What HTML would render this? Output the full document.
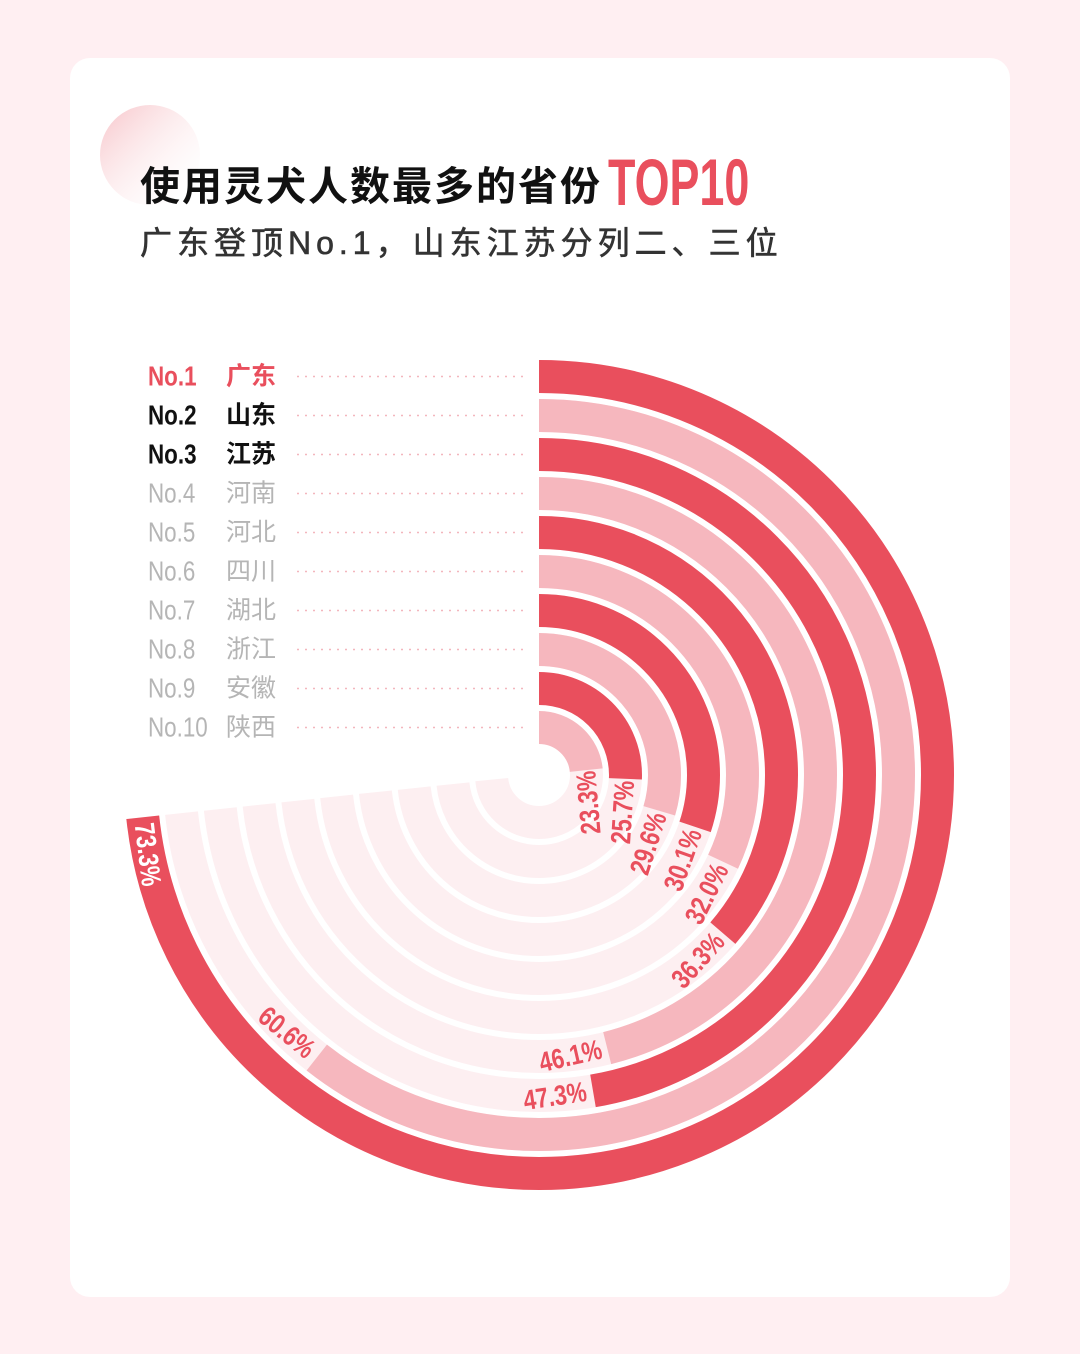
<!DOCTYPE html>
<html><head><meta charset="utf-8"><style>
html,body{margin:0;padding:0;background:#ffeff2;}
body{width:1080px;height:1354px;position:relative;overflow:hidden;font-family:"Liberation Sans","Noto Sans CJK SC",sans-serif;}
.card{position:absolute;left:70px;top:58px;width:940px;height:1239px;background:#fff;border-radius:20px;}
</style></head><body>
<div class="card"></div>
<svg width="1080" height="1354" style="position:absolute;left:0;top:0">
<defs>
<linearGradient id="g" x1="0" y1="0" x2="1" y2="1">
<stop offset="0" stop-color="#f7c4c9"/><stop offset="1" stop-color="#fff" stop-opacity="0"/>
</linearGradient>
</defs>
<circle cx="150" cy="155" r="50" fill="url(#g)"/>
<text x="140" y="200" font-size="40" font-weight="bold" fill="#111" letter-spacing="2" font-family="'Liberation Sans','Noto Sans CJK SC',sans-serif">使用灵犬人数最多的省份</text>
<text x="608" y="205" font-size="66" font-weight="bold" fill="#e94f5d" font-family="'Liberation Sans Narrow','Liberation Sans',sans-serif" transform="translate(608,0) scale(0.68,1) translate(-608,0)">TOP10</text>
<text x="140" y="254" font-size="32" fill="#333" letter-spacing="5" stroke="#333" stroke-width="0.6" font-family="'Liberation Sans','Noto Sans CJK SC',sans-serif">广东登顶No.1，山东江苏分列二、三位</text>
<g id="rings"></g>
<g id="legend"></g>
<g id="labels"></g>
</svg>
<script>
const cx=539,cy=775,NS="http://www.w3.org/2000/svg";
const vals=[73.3,60.6,47.3,46.1,36.3,32.0,30.1,29.6,25.7,23.3];
const names=["广东","山东","江苏","河南","河北","四川","湖北","浙江","安徽","陕西"];
const R=document.getElementById("rings"),L=document.getElementById("legend"),T=document.getElementById("labels");
function el(t,a,p){const e=document.createElementNS(NS,t);for(const k in a)e.setAttribute(k,a[k]);p.appendChild(e);return e;}
vals.forEach((v,i)=>{
 const r=398.5-39*i,C=2*Math.PI*r;
 el("circle",{cx,cy,r,fill:"none",stroke:"#fdeff1","stroke-width":33,"stroke-dasharray":(0.733*C)+" "+C,transform:`rotate(-90 ${cx} ${cy})`},R);
 el("circle",{cx,cy,r,fill:"none",stroke:i%2==0?"#e94f5d":"#f6b7be","stroke-width":33,"stroke-dasharray":(v/100*C)+" "+C,transform:`rotate(-90 ${cx} ${cy})`},R);
 const first=i==0;
 const th=first? v*3.6-0.8 : v*3.6+1.2;
 const g=el("g",{transform:`translate(${cx},${cy}) rotate(${th})`},T);
 const t=el("text",{x:0,y:-r,"text-anchor":first?"start":"end","dominant-baseline":"central","font-size":28,fill:first?"#fff":"#e94f5d","font-weight":"bold","font-family":"'Liberation Sans Narrow','Liberation Sans',sans-serif",transform:`rotate(180 0 ${-r}) translate(0 ${-r}) scale(0.8 1) translate(0 ${r})`},g);
 t.textContent=v.toFixed(1)+"%";
 const y=376.5+39*i;
 const col=i==0?"#e94f5d":(i<3?"#111":"#b5b5b5");
 const n=el("text",{x:148,y:y,"dominant-baseline":"central","font-size":28,fill:col,"font-weight":i<3?"bold":"normal","font-family":"'Liberation Sans Narrow','Liberation Sans',sans-serif",transform:`translate(148 0) scale(0.8 1) translate(-148 0)`},L);
 n.textContent="No."+(i+1);
 const m=el("text",{x:226,y:y,"dominant-baseline":"central","font-size":25,fill:col,"font-weight":i<3?"bold":"normal","font-family":"'Liberation Sans','Noto Sans CJK SC',sans-serif"},L);
 m.textContent=names[i];
 el("line",{x1:297,y1:y,x2:527,y2:y,stroke:"#f3b6bd","stroke-width":1.5,"stroke-dasharray":"2 6"},L);
});
</script>
</body></html>
